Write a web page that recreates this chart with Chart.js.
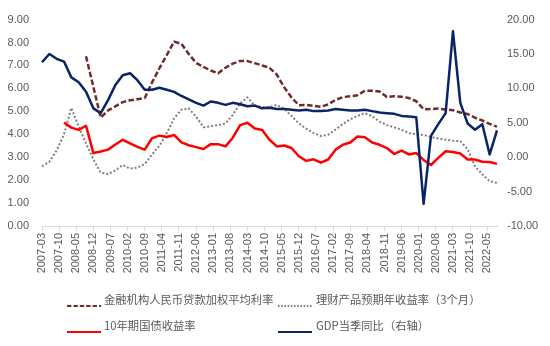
<!DOCTYPE html>
<html><head><meta charset="utf-8">
<script src="https://cdn.jsdelivr.net/npm/chart.js@4/dist/chart.umd.min.js"></script>
<style>
html,body{margin:0;padding:0;background:#fff;}
#wrap{position:relative;width:550px;height:346px;overflow:hidden;}
#c{position:absolute;left:0;top:0;}
.lg{position:absolute;font-family:"Noto Sans CJK SC","Noto Sans",sans-serif;font-size:11.3px;color:#595959;white-space:nowrap;line-height:14px;}
.lgs{position:absolute;}
</style></head><body>
<div id="wrap"><canvas id="c" width="550" height="346"></canvas><div id="legend"></div></div>
<script>
// ---- categories: monthly from 2007-03 to 2022-09 ----
const startYear = 2007, startMonth = 3, monthCount = 187;
const labelEvery = 7;

// ---- series (quarterly observations) ----
// GDP 当季同比 (right axis), from 2007-03
const gdpQ = [13.8,15.0,14.3,13.9, 11.6,10.9,9.5,7.1, 6.4,8.3,10.5,11.9,
  12.2,11.2,9.8,9.8, 10.1,9.8,9.5,8.9, 8.4,7.9,7.5,8.1, 7.9,7.6,7.9,7.7,
  7.4,7.5,7.1,7.2, 7.0,7.0,6.9,6.8, 6.9,6.7,6.7,6.8, 7.0,6.9,6.8,6.8,
  6.9,6.7,6.5,6.4, 6.3,6.0,5.9,5.8, -6.8,3.1,4.8,6.4, 18.3,7.9,4.9,4.0,
  4.8,0.4,3.9];
// 金融机构人民币贷款加权平均利率, from 2008-09
const loanRateQ = [7.40,null, 4.73,5.04,5.22,5.40, 5.48,5.53,5.58,6.26,
  6.88,7.45,8.04,7.94, 7.50,7.11,6.94,6.78, 6.66,6.90,7.08,7.20,
  7.19,7.10,7.00,6.90, 6.60,6.05,5.60,5.27, 5.28,5.24,5.20,5.30,
  5.50,5.62,5.66,5.70, 5.90,5.90,5.86,5.62, 5.66,5.64,5.58,5.44,
  5.09,5.10,5.12,5.08, 5.05,4.95,4.88,4.72, 4.60,4.45,4.33];
// 10年期国债收益率, from 2007-12
const bond10yQ = [4.51, 4.29,4.19,4.37,3.18, 3.25,3.33,3.55,3.76,
  3.60,3.45,3.33,3.83, 3.94,3.88,3.97,3.65, 3.52,3.44,3.36,3.57,
  3.57,3.47,3.85,4.40, 4.50,4.25,4.19,3.76, 3.47,3.51,3.40,3.04,
  2.84,2.91,2.76,2.90, 3.33,3.54,3.64,3.90, 3.87,3.64,3.54,3.40,
  3.14,3.29,3.12,3.18, 2.88,2.66,2.97,3.26, 3.23,3.16,2.90,2.90,
  2.80,2.79,2.71];
// 理财产品预期年收益率（3个月）, from 2007-03
const wealthQ = [2.60,2.80,3.30,4.00, 5.15,4.33,3.60,2.90, 2.33,2.26,2.43,2.66,
  2.50,2.55,2.70,3.12, 3.50,4.05,4.69,5.07, 5.13,4.76,4.31,4.35,
  4.40,4.47,4.85,5.35, 5.61,5.25,5.19,5.19, 5.28,5.11,4.80,4.47,
  4.25,4.05,3.92,3.98, 4.20,4.45,4.65,4.80, 4.92,4.78,4.55,4.40,
  4.30,4.20,4.05,4.00, 3.97,3.88,3.82,3.76, 3.72,3.70,3.35,2.60,
  2.26,1.95,1.88];

const seriesNames = ['金融机构人民币贷款加权平均利率','理财产品预期年收益率（3个月）','10年期国债收益率','GDP当季同比（右轴）'];
const seriesColors = ['#702B2B','#7F7F7F','#FF0000','#0A2466'];

// build monthly table
const months = [];
for (let i = 0; i < monthCount; i++) {
  const t = (startMonth - 1) + i;
  const y = startYear + Math.floor(t / 12);
  const m = (t % 12) + 1;
  months.push(y + '-' + String(m).padStart(2, '0'));
}
function toMonthly(arr, firstLabel) {
  const out = new Array(monthCount).fill(null);
  const s = months.indexOf(firstLabel);
  arr.forEach((v, k) => { if (s + 3 * k < monthCount) out[s + 3 * k] = v; });
  return out;
}

const tickFont = {family: '"Liberation Sans", Arial, sans-serif', size: 11};
const ctx = document.getElementById('c').getContext('2d');
const chart = new Chart(ctx, {
  type: 'line',
  data: {
    labels: months,
    datasets: [
      {label: seriesNames[0], data: toMonthly(loanRateQ, '2008-09'), yAxisID: 'y',
       borderColor: seriesColors[0], borderWidth: 2.5, borderDash: [5.5, 2.5], order: 4},
      {label: seriesNames[1], data: toMonthly(wealthQ, '2007-03'), yAxisID: 'y',
       borderColor: seriesColors[1], borderWidth: 2, borderDash: [2, 2], order: 3},
      {label: seriesNames[2], data: toMonthly(bond10yQ, '2007-12'), yAxisID: 'y',
       borderColor: seriesColors[2], borderWidth: 2.5, order: 2},
      {label: seriesNames[3], data: toMonthly(gdpQ, '2007-03'), yAxisID: 'y1',
       borderColor: seriesColors[3], borderWidth: 2.5, order: 1}
    ]
  },
  options: {
    responsive: false,
    animation: false,
    spanGaps: true,
    elements: {point: {radius: 0, hoverRadius: 0}, line: {tension: 0, fill: false, borderJoinStyle: 'round', borderCapStyle: 'butt'}},
    layout: {padding: {top: 16, left: 0, right: 0, bottom: 0}},
    plugins: {legend: {display: false}, tooltip: {enabled: false}},
    scales: {
      x: {
        offset: false,
        grid: {display: true, drawOnChartArea: false, drawTicks: true, tickLength: 5, color: '#D9D9D9', offset: false},
        border: {display: true, color: '#D9D9D9', width: 1},
        ticks: {autoSkip: false, maxRotation: 90, minRotation: 90, padding: 2, color: '#595959', font: tickFont,
          callback: function (v, i) { return i % labelEvery === 0 ? this.getLabelForValue(v) : null; }},
        afterFit: s => { s.height = 120; }
      },
      y: {
        position: 'left', min: 0, max: 9,
        grid: {display: false, drawTicks: false, tickLength: 0},
        border: {display: false},
        ticks: {stepSize: 1, padding: 13, color: '#595959', font: tickFont, callback: v => v.toFixed(2)},
        afterFit: s => { s.width = 42; }
      },
      y1: {
        position: 'right', min: -10, max: 20,
        grid: {display: false, drawTicks: false, tickLength: 0},
        border: {display: false},
        ticks: {stepSize: 5, padding: 10, color: '#595959', font: tickFont, callback: v => v.toFixed(2)},
        afterFit: s => { s.width = 53; }
      }
    }
  }
});

// ---- legend (HTML, 2x2 grid) ----
const legendSlots = [
  {sx: 67, tx: 104, cy: 300}, {sx: 278, tx: 316, cy: 300},
  {sx: 67, tx: 104, cy: 326}, {sx: 278, tx: 316, cy: 326}
];
const lg = document.getElementById('legend');
chart.data.datasets.forEach((ds, i) => {
  const p = legendSlots[i];
  const dash = ds.borderDash ? ds.borderDash.map(d => d * 0.8).join(',') : 'none';
  const w = 2;
  const sv = document.createElement('div');
  sv.className = 'lgs';
  sv.style.left = p.sx + 'px';
  sv.style.top = (p.cy - 4) + 'px';
  sv.innerHTML = '<svg width="34" height="8"><line x1="0" y1="4" x2="34" y2="4" stroke="' + ds.borderColor +
    '" stroke-width="' + w + '" stroke-dasharray="' + dash + '"/></svg>';
  lg.appendChild(sv);
  const t = document.createElement('div');
  t.className = 'lg';
  t.style.left = p.tx + 'px';
  t.style.top = (p.cy - 8) + 'px';
  t.textContent = ds.label;
  lg.appendChild(t);
});
</script>
</body></html>
